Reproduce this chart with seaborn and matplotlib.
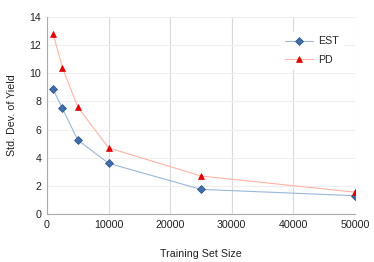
import matplotlib
matplotlib.use("Agg")
import matplotlib.pyplot as plt
import seaborn as sns
import pandas as pd

sizes = [1000, 2500, 5000, 10000, 25000, 50000]
est = [8.85, 7.5, 5.25, 3.6, 1.75, 1.3]
pd_vals = [12.8, 10.4, 7.6, 4.7, 2.7, 1.55]

sns.set_theme(style="white")
plt.rcParams['font.family'] = ['Liberation Sans', 'DejaVu Sans']

df = pd.DataFrame({"size": sizes * 2, "val": est + pd_vals,
                   "series": ["EST"] * len(sizes) + ["PD"] * len(sizes)})

fig = plt.figure(figsize=(3.74, 2.62), dpi=100)
ax = fig.add_axes([47/374, 48/262, 308/374, 197/262])

sns.lineplot(data=df[df.series == "EST"], x="size", y="val", ax=ax,
             color="#9bb7d9", lw=0.8, marker="D", markersize=3.6,
             markerfacecolor="#3f6ea8", markeredgecolor="#2a4f80", markeredgewidth=0.5,
             label="EST")
sns.lineplot(data=df[df.series == "PD"], x="size", y="val", ax=ax,
             color="#ffb3a6", lw=0.8, marker="^", markersize=4.8,
             markerfacecolor="#e00000", markeredgecolor="#e00000", markeredgewidth=0.5,
             label="PD")

ax.set_xlim(0, 50000)
ax.set_ylim(0, 14)
ax.set_xticks(range(0, 50001, 10000))
ax.set_yticks(range(0, 15, 2))
ax.grid(True, axis="x", color="#d9d9d9", lw=0.8)
ax.grid(True, axis="y", color="#eeeeee", lw=0.8)
ax.set_axisbelow(True)
for s in ["top", "right"]:
    ax.spines[s].set_visible(False)
for s in ["left", "bottom"]:
    ax.spines[s].set_color("#aaaaaa")
    ax.spines[s].set_linewidth(0.8)
ax.tick_params(axis="both", labelsize=7.7, colors="#222222", length=0, pad=4)
ax.set_xlabel("Training Set Size", fontsize=7.7, color="#222222", labelpad=14)
ax.set_ylabel("Std. Dev. of Yield", fontsize=7.7, color="#222222", labelpad=9)

leg = ax.legend(loc="upper right", bbox_to_anchor=(0.98, 0.95), fontsize=7.7,
                frameon=True, framealpha=1, edgecolor="white", facecolor="white",
                handlelength=2.6, labelspacing=0.8, borderpad=0.4, handletextpad=0.5)

fig.savefig("out.png", dpi=100)
